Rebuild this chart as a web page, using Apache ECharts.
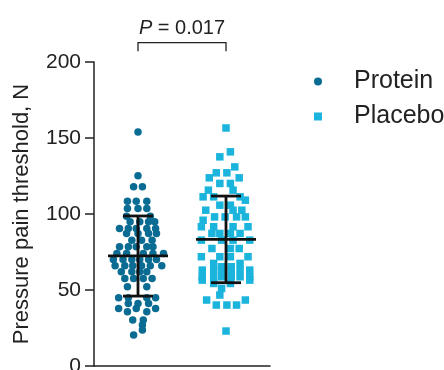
<!DOCTYPE html>
<html>
<head>
<meta charset="utf-8">
<script src="https://cdn.jsdelivr.net/npm/echarts@6/dist/echarts.min.js"></script>
<style>
  html, body { margin: 0; padding: 0; background: #fff; }
  #main { width: 444px; height: 370px; }
</style>
</head>
<body>
<div id="main"></div>
<script>
// group names, x positions of the groups on the value axis
var groupNames = ['Protein', 'Placebo'];
var groupX = [1, 2];
var yTicks = [0, 50, 100, 150, 200];

// [offset from group centre, value]
var proteinPoints = [
  [0, 154.0], [0, 125.1], [-0.05, 117.9], [0.05, 117.9],
  [-0.12, 108.4], [-0.02, 108.4], [0.10, 108.4],
  [-0.12, 103.6], [0, 103.6], [0.10, 103.6],
  [-0.13, 98.6], [0.14, 98.6],
  [-0.09, 94.9], [0.02, 94.9], [0.12, 94.9], [0.19, 94.9],
  [-0.21, 90.5], [-0.11, 90.5], [-0.02, 90.5], [0.10, 90.5], [0.20, 90.5],
  [-0.13, 87.2], [0, 87.2], [0.12, 87.2], [0.21, 87.2],
  [-0.07, 82.8], [0.04, 82.8], [0.16, 82.8],
  [-0.21, 78.4], [-0.11, 78.4], [-0.02, 78.4], [0.10, 78.4], [0.17, 78.4],
  [-0.24, 74.0], [-0.13, 74.0], [0.06, 74.0], [0.17, 74.0], [0.29, 74.0],
  [-0.28, 70.1], [-0.17, 70.1], [-0.07, 70.1], [0.02, 70.1], [0.12, 70.1], [0.21, 70.1],
  [-0.26, 65.9], [-0.15, 65.9], [-0.06, 65.9], [0.04, 65.9], [0.14, 65.9], [0.27, 65.9],
  [-0.19, 62.0], [-0.07, 62.0], [0.02, 62.0], [0.10, 62.0],
  [-0.15, 57.6], [-0.05, 57.6], [0.06, 57.6], [0.16, 57.6],
  [-0.12, 52.1], [0.10, 52.1],
  [-0.22, 44.9], [-0.11, 44.9], [0.10, 44.9], [0.20, 44.9],
  [-0.11, 41.2], [0, 41.2], [0.12, 41.2],
  [-0.22, 37.9], [-0.02, 37.9], [0.20, 37.9],
  [-0.12, 35.7], [0.10, 35.7],
  [-0.06, 30.2], [0.06, 30.2],
  [0.05, 26.9], [0.05, 23.7], [-0.05, 20.4]
];

var placeboPoints = [
  [0, 156.6], [0.05, 140.9], [-0.07, 137.6], [0.10, 131.0],
  [-0.11, 127.1], [0.01, 127.1], [-0.19, 123.8], [0.15, 123.8],
  [-0.07, 120.1], [0.05, 120.1], [-0.20, 115.7], [0.08, 115.7],
  [-0.26, 111.3], [-0.14, 111.3], [0.16, 111.3], [0.22, 109.1],
  [-0.07, 105.8], [0.05, 105.8], [-0.23, 102.5], [0.08, 102.5], [0.18, 102.5],
  [-0.13, 98.1], [-0.01, 98.1], [0.12, 98.1], [0.22, 98.1], [-0.26, 95.9],
  [-0.28, 91.6], [-0.14, 91.6], [0.08, 91.6], [0.25, 91.6],
  [-0.16, 87.2], [-0.07, 87.2], [0.05, 87.2], [0.16, 87.2],
  [-0.28, 82.8], [-0.05, 82.8], [0.08, 82.8], [0.27, 82.8],
  [-0.16, 77.3], [0.05, 77.3], [0.15, 77.3],
  [-0.28, 71.9], [-0.07, 71.9], [0.05, 71.9], [0.25, 71.9],
  [-0.14, 67.5], [0.16, 67.5], [-0.05, 65.3], [0.06, 65.3],
  [-0.27, 63.1], [-0.14, 63.1], [-0.05, 63.1], [0.06, 63.1], [0.16, 63.1], [0.27, 63.1],
  [-0.27, 58.7], [-0.14, 58.7], [-0.05, 58.7], [0.06, 58.7], [0.16, 58.7], [0.27, 58.7],
  [-0.27, 56.5], [0.27, 56.5], [-0.14, 54.3], [0.05, 54.3],
  [-0.05, 51.0], [-0.07, 46.7], [-0.22, 43.4], [0.22, 43.4],
  [-0.11, 40.1], [0.01, 40.1], [0.12, 40.1], [0, 23.0]
];

// mean and +/- SD
var meanValues = [72.4, 83.3];
var upperValues = [98.7, 111.8];
var lowerValues = [46.0, 54.8];
var pLabel = '0.017';

function place(points, cx) {
  return points.map(function (p) { return [cx + p[0], p[1]]; });
}

var errData = groupX.map(function (x, i) {
  return [x, meanValues[i], upperValues[i], lowerValues[i]];
});

var chart = echarts.init(document.getElementById('main'));
chart.setOption({
  animation: false,
  textStyle: { fontFamily: 'Liberation Sans, Arial, sans-serif' },
  grid: { left: 94, top: 62, width: 176, height: 304, containLabel: false, outerBoundsMode: 'none' },
  legend: {
    orient: 'vertical',
    left: 309,
    top: 64,
    itemWidth: 8,
    itemHeight: 8,
    itemGap: 10,
    data: groupNames,
    textStyle: { fontSize: 25, color: '#222', padding: [0, 0, 0, 27] }
  },
  xAxis: {
    type: 'value', min: 0.5, max: 2.5,
    axisLine: { show: true, lineStyle: { color: '#222', width: 1.5 } },
    axisTick: { show: false }, axisLabel: { show: false }, splitLine: { show: false }
  },
  yAxis: {
    type: 'value', min: yTicks[0], max: yTicks[yTicks.length - 1], interval: 50,
    name: 'Pressure pain threshold, N',
    nameLocation: 'middle', nameGap: 61, nameRotate: 90,
    nameTextStyle: { fontSize: 22, color: '#222' },
    axisLine: { show: true, lineStyle: { color: '#222', width: 1.5 } },
    axisTick: { show: true, length: 9, lineStyle: { color: '#222', width: 1.5 } },
    axisLabel: { fontSize: 21, color: '#222', margin: 13 },
    splitLine: { show: false }
  },
  series: [
    {
      name: groupNames[0], type: 'scatter', symbol: 'circle', symbolSize: 7.5,
      itemStyle: { color: '#0b6c93', opacity: 1 },
      data: place(proteinPoints, groupX[0])
    },
    {
      name: groupNames[1], type: 'scatter', symbol: 'rect', symbolSize: 7.5,
      itemStyle: { color: '#1ab4dc', opacity: 1 },
      data: place(placeboPoints, groupX[1])
    },
    {
      type: 'custom', silent: true, z: 5,
      data: errData,
      renderItem: function (params, api) {
        var x = api.value(0);
        var m = api.coord([x, api.value(1)]);
        var hi = api.coord([x, api.value(2)]);
        var lo = api.coord([x, api.value(3)]);
        var w = 30, c = 15;
        var st = { stroke: '#111', lineWidth: 2.8 };
        return {
          type: 'group',
          children: [
            { type: 'line', shape: { x1: m[0] - w, y1: m[1], x2: m[0] + w, y2: m[1] }, style: st },
            { type: 'line', shape: { x1: m[0], y1: hi[1], x2: m[0], y2: lo[1] }, style: st },
            { type: 'line', shape: { x1: m[0] - c, y1: hi[1], x2: m[0] + c, y2: hi[1] }, style: st },
            { type: 'line', shape: { x1: m[0] - c, y1: lo[1], x2: m[0] + c, y2: lo[1] }, style: st }
          ]
        };
      }
    },
    {
      type: 'custom', silent: true, clip: false,
      data: [[groupX[0], groupX[1], 212.8, 207]],
      renderItem: function (params, api) {
        var a = api.coord([api.value(0), api.value(2)]);
        var b = api.coord([api.value(1), api.value(2)]);
        var foot = api.coord([api.value(0), api.value(3)]);
        var st = { stroke: '#222', lineWidth: 1.3, fill: null };
        return {
          type: 'group',
          children: [
            { type: 'polyline', shape: { points: [[a[0], foot[1]], a, b, [b[0], foot[1]]] }, style: st },
            {
              type: 'text',
              style: {
                x: (a[0] + b[0]) / 2, y: a[1] - 4,
                text: '{i|P} = ' + pLabel,
                align: 'center', verticalAlign: 'bottom',
                fontSize: 20, fill: '#222',
                fontFamily: 'Liberation Sans, Arial, sans-serif',
                rich: { i: { fontStyle: 'italic', fontSize: 20, fill: '#222' } }
              }
            }
          ]
        };
      }
    }
  ]
});
</script>
</body>
</html>
